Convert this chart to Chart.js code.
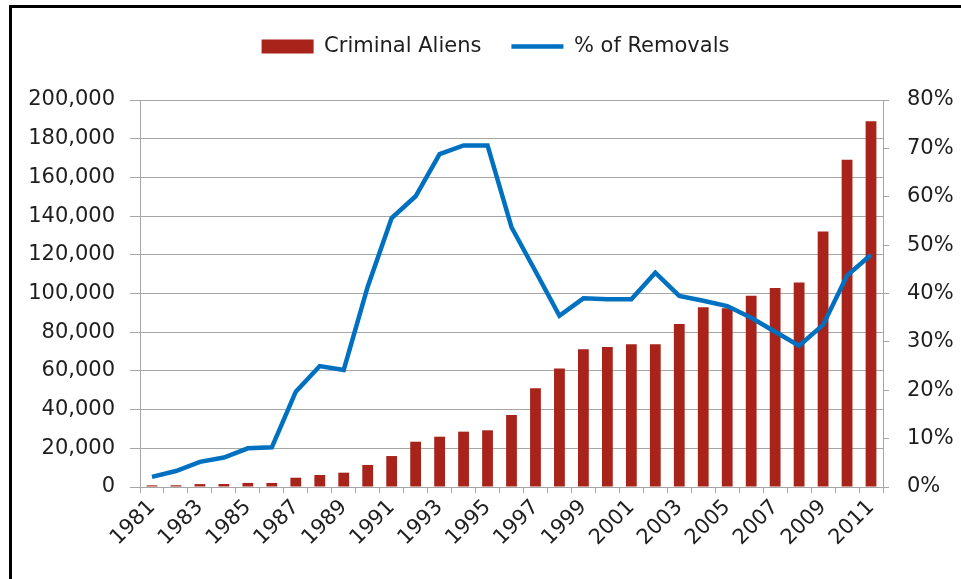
<!DOCTYPE html>
<html>
<head>
<meta charset="utf-8">
<script src="https://cdn.jsdelivr.net/npm/chart.js@4.4.1/dist/chart.umd.min.js"></script>
<style>
  html, body { margin: 0; padding: 0; background: #fff; }
  #wrap { position: relative; width: 961px; height: 579px; }
  #frame {
    position: absolute; left: 9px; top: 5px; right: 0; bottom: 0;
    border-top: 3px solid #000; border-left: 3px solid #000;
    pointer-events: none;
  }
</style>
</head>
<body>
<div id="wrap">
  <canvas id="chart" width="961" height="579"></canvas>
  <div id="frame"></div>
</div>
<script>
// data
const years = [
  "1981", "1982", "1983", "1984", "1985", "1986", "1987", "1988", "1989", "1990",
  "1991", "1992", "1993", "1994", "1995", "1996", "1997", "1998", "1999", "2000",
  "2001", "2002", "2003", "2004", "2005", "2006", "2007", "2008", "2009", "2010", "2011"
];
const criminalAliens = [
  850, 900, 1500, 1550, 2100, 2100, 4800, 6200, 7400, 11400,
  16000, 23400, 26000, 28600, 29300, 37200, 51000, 61200, 71200, 72400,
  73800, 73800, 84300, 92900, 92400, 98800, 102800, 105700, 132100, 169100, 189000
];
const pctRemovals = [
  2.1, 3.3, 5.2, 6.1, 8.0, 8.2, 19.7, 25.0, 24.2, 41.4,
  55.6, 60.1, 68.8, 70.6, 70.6, 53.7, 44.6, 35.4, 39.0, 38.8,
  38.8, 44.3, 39.5, 38.5, 37.4, 35.0, 32.1, 29.2, 33.5, 43.7, 48.0
];
const leftTicks = [0, 20000, 40000, 60000, 80000, 100000, 120000, 140000, 160000, 180000, 200000];
const rightTicks = [0, 10, 20, 30, 40, 50, 60, 70, 80];

const barColor = "#A8231A";
const lineColor = "#0070C0";
const gridColor = "#A6A6A6";
const textColor = "#1E1E1E";
const font = { family: "'DejaVu Sans', sans-serif", size: 21 };

// extra space under the legend, like the Excel layout
const legendGap = {
  id: "legendGap",
  beforeLayout(chart) {
    const lg = chart.legend;
    if (lg && !lg._gapPatched) {
      const fit = lg.fit;
      lg.fit = function () {
        fit.call(this);
        this.height += 33;
      };
      lg._gapPatched = true;
    }
  }
};

const defaultLabels = Chart.defaults.plugins.legend.labels.generateLabels;

new Chart(document.getElementById("chart").getContext("2d"), {
  type: "bar",
  data: {
    labels: years,
    datasets: [
      {
        label: "Criminal Aliens",
        data: criminalAliens,
        backgroundColor: barColor,
        borderWidth: 0,
        categoryPercentage: 1,
        barPercentage: 0.45,
        yAxisID: "y",
        order: 1
      },
      {
        type: "line",
        label: "% of Removals",
        data: pctRemovals,
        borderColor: lineColor,
        backgroundColor: lineColor,
        borderWidth: 4.5,
        pointRadius: 0,
        tension: 0,
        yAxisID: "y1",
        order: 0
      }
    ]
  },
  plugins: [legendGap],
  options: {
    responsive: false,
    animation: false,
    // right padding is negative so the legend centre sits where Excel put it
    layout: { padding: { left: 20, right: -10, top: 6, bottom: 0 } },
    plugins: {
      tooltip: { enabled: false },
      legend: {
        position: "top",
        labels: {
          color: textColor,
          font: font,
          usePointStyle: true,
          pointStyleWidth: 52,
          boxHeight: 14,
          padding: 30,
          sort: (a, b) => a.datasetIndex - b.datasetIndex,
          generateLabels(chart) {
            return defaultLabels(chart).map(function (item) {
              item.pointStyle = item.datasetIndex === 0 ? "rect" : "line";
              item.lineWidth = item.datasetIndex === 0 ? 0 : 4.5;
              return item;
            });
          }
        }
      }
    },
    scales: {
      x: {
        offset: true,
        grid: {
          offset: true,
          drawOnChartArea: false,
          color: gridColor,
          tickLength: 6
        },
        border: { color: gridColor },
        ticks: {
          color: textColor,
          font: font,
          autoSkip: false,
          minRotation: 45,
          maxRotation: 45,
          padding: 2,
          callback: function (v, i) { return i % 2 === 0 ? years[i] : ""; }
        },
        afterFit(scale) { scale.height = 92; }
      },
      y: {
        position: "left",
        min: 0,
        max: 200000,
        grid: { color: gridColor, tickLength: 10 },
        border: { color: gridColor },
        afterBuildTicks(scale) { scale.ticks = leftTicks.map(v => ({ value: v })); },
        ticks: {
          color: textColor,
          font: font,
          padding: 15,
          callback: v => v.toLocaleString("en-US")
        },
        afterFit(scale) { scale.width = 120; }
      },
      y1: {
        position: "right",
        min: 0,
        max: 80,
        grid: { drawOnChartArea: false, color: gridColor, tickLength: 6 },
        border: { color: gridColor },
        afterBuildTicks(scale) { scale.ticks = rightTicks.map(v => ({ value: v })); },
        ticks: {
          color: textColor,
          font: font,
          padding: 18,
          callback: v => v + "%"
        },
        afterFit(scale) { scale.width = 88; }
      }
    }
  }
});
</script>
</body>
</html>
